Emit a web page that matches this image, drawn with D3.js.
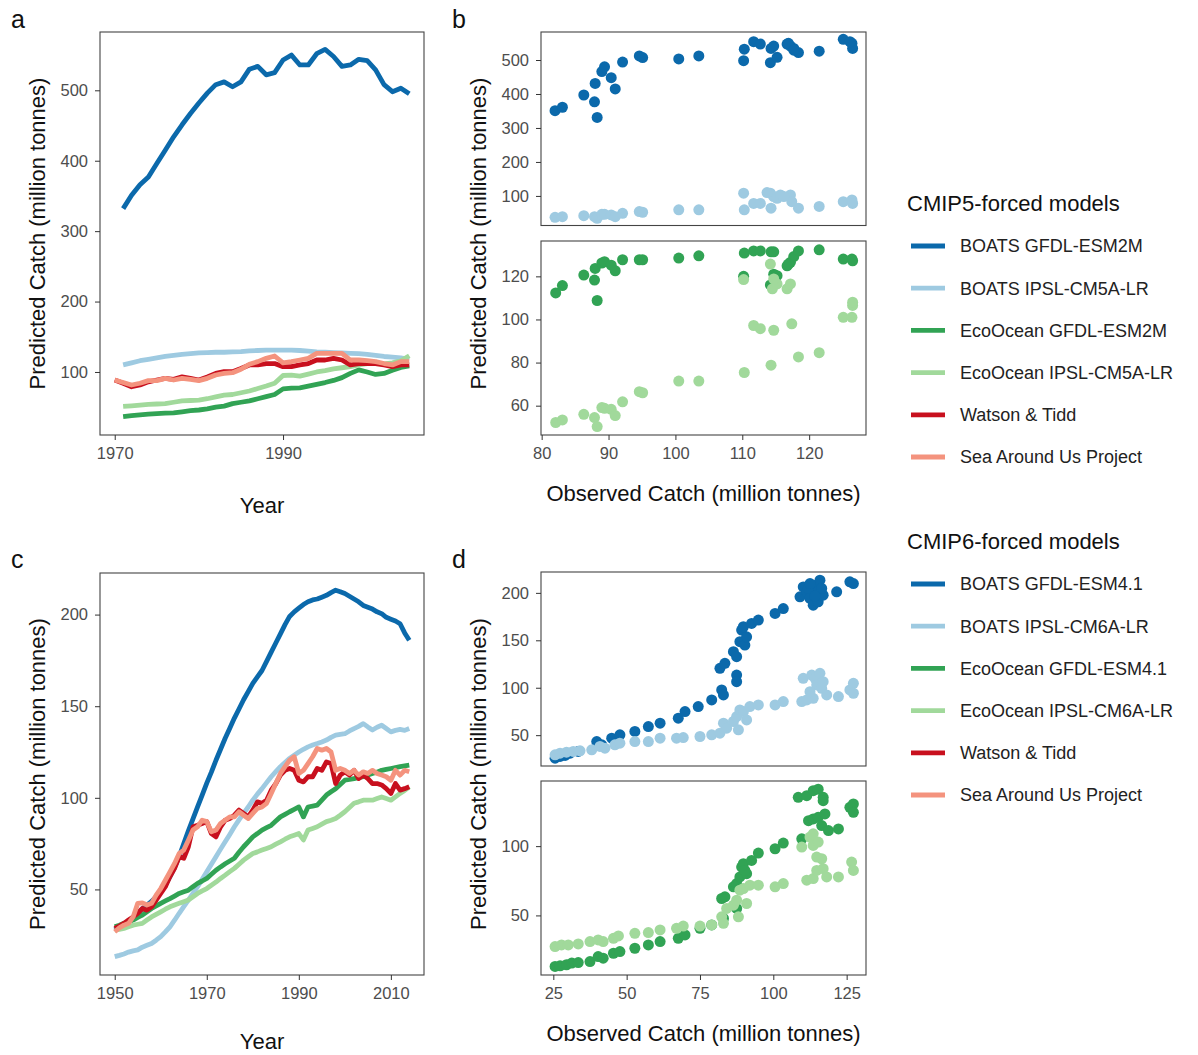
<!DOCTYPE html>
<html>
<head>
<meta charset="utf-8">
<script src="https://cdn.jsdelivr.net/npm/d3@7"></script>
<style>
    body { margin: 0; background: #fff; }
    svg { font-family: "Liberation Sans", Arial, Helvetica, sans-serif; }
    .tick text { fill: #4d4d4d; font-size: 16.5px; }
    .tick line { stroke: #333; }
</style>
</head>
<body>
<svg id="chart" width="1198" height="1055"></svg>
<script>
// ---- data ----
var seriesColors = ["#0b69ab", "#9ecae1", "#31a354", "#a1d99b", "#c8101e", "#f4937e"];
var legend5Labels = ["BOATS GFDL-ESM2M", "BOATS IPSL-CM5A-LR", "EcoOcean GFDL-ESM2M", "EcoOcean IPSL-CM5A-LR", "Watson & Tidd", "Sea Around Us Project"];
var legend6Labels = ["BOATS GFDL-ESM4.1", "BOATS IPSL-CM6A-LR", "EcoOcean GFDL-ESM4.1", "EcoOcean IPSL-CM6A-LR", "Watson & Tidd", "Sea Around Us Project"];

// panel a: CMIP5, observations 1970-2005, models 1971-2005
var yearsObs5 = d3.range(1970, 2006);
var yearsMod5 = d3.range(1971, 2006);
var boatsGfdl5 = [332, 351, 366, 377, 396, 415, 434, 451, 467, 482, 496, 508, 512, 505, 512, 530, 534, 522, 525, 543,
    550, 536, 536, 552, 558, 548, 534, 536, 544, 542, 529, 508, 498, 503, 495];
var boatsIpsl5 = [110, 113, 116, 118, 120, 122, 123.5, 125, 126, 127, 127.5, 128, 128, 128.5, 129, 130, 130.5, 131, 131, 131,
    131, 130.5, 129.5, 128.5, 128, 127.5, 127, 126.5, 126, 125, 123.5, 122, 121, 120, 118];
var ecoGfdl5 = [36.5, 38, 39, 40, 41, 41.5, 42, 43.5, 45, 46, 47.5, 50, 51.5, 55, 57, 59, 62, 65, 68, 76,
    77, 77.5, 80, 82.5, 85, 88, 92, 98, 103, 100, 96.5, 98, 102.5, 106.5, 108.5];
var ecoIpsl5 = [51, 52, 53, 54, 54.5, 55, 57, 59, 59.5, 60, 62, 64.5, 67, 68, 70.5, 73, 76.5, 80, 84, 95,
    95.5, 94, 97, 100, 102, 104.5, 106, 107.5, 110, 112, 112, 111.5, 113, 116, 123];
var watson5 = [88.6, 84, 79, 81.5, 86, 88.6, 91, 89.6, 93, 91, 88.6, 93, 98, 100.5, 100.5, 105, 110, 110, 112, 112,
    107.6, 107.6, 110, 112, 117, 117, 119.4, 117, 110, 112, 112, 112, 110, 107.6, 110, 110];
var sau5 = [88.6, 85, 81.5, 84, 87.7, 87.7, 91, 88.6, 91, 89.6, 87.7, 91, 95.7, 98, 99, 103.8, 111, 114.7, 119.4, 122.7,
    113, 114.7, 117, 119.4, 126.5, 126.5, 126.5, 126.5, 117, 117, 116, 114.7, 112, 110, 114.7, 114.7];

// panel b: [observed, predicted]
var obsPredBoatsGfdl5 = [[82.0, 351], [83.1, 361], [86.3, 397], [87.9, 377], [88.0, 431], [88.3, 331], [89.0, 466], [89.4, 480],
    [90.4, 448], [91.0, 415], [92.1, 494], [94.6, 512], [95.1, 507], [100.5, 503], [103.5, 512], [110.3, 532], [110.2, 498],
    [111.7, 554], [112.7, 547], [114.3, 534], [114.7, 541], [114.2, 492], [115.2, 508], [116.7, 547], [117.2, 541],
    [117.7, 534], [118.4, 522], [121.5, 526], [125.1, 561], [126.4, 549], [126.5, 534], [126.1, 554], [116.9, 549], [117.7, 529]];
var obsPredBoatsIpsl5 = [[82.0, 37], [83.1, 39], [86.3, 42], [87.9, 39], [88.3, 34], [89.0, 46], [89.4, 46], [90.4, 44],
    [91.0, 39], [92.1, 49], [94.6, 54], [95.1, 52], [100.5, 59], [103.5, 59], [110.2, 108], [110.3, 59], [111.7, 78],
    [112.7, 78], [114.2, 108], [114.3, 64], [114.7, 98], [115.2, 93], [115.7, 103], [117.2, 103], [117.4, 83], [118.4, 64],
    [121.5, 69], [125.1, 83], [126.4, 88], [126.5, 78], [113.7, 110], [116.2, 98]];
var obsPredEcoGfdl5 = [[82.1, 112.3], [83.1, 115.7], [86.3, 120.6], [87.9, 118.3], [88.3, 108.8], [88.0, 123.7], [89.0, 126.2],
    [89.4, 126.8], [90.4, 125.2], [91.0, 122.6], [92.1, 127.7], [94.6, 127.7], [95.1, 127.7], [100.5, 128.5], [103.5, 129.5],
    [110.3, 130.8], [110.2, 120], [111.7, 131.8], [112.7, 131.8], [114.3, 131.4], [114.7, 131.4], [114.2, 116], [114.7, 121],
    [115.2, 120.3], [116.7, 124.9], [117.2, 126.5], [117.7, 129.2], [118.4, 131.8], [121.5, 132.3], [125.1, 128], [126.4, 128],
    [126.5, 127.2], [116.9, 125.7]];
var obsPredEcoIpsl5 = [[82.1, 52.2], [83.1, 53.4], [86.3, 56], [87.9, 54.5], [88.3, 50.3], [89.0, 59.1], [89.4, 58.8], [90.4, 58.3],
    [91.0, 55.4], [92.1, 61.8], [94.6, 66.5], [95.1, 66], [100.5, 71.4], [103.5, 71.4], [110.3, 75.4], [110.2, 118.5],
    [111.7, 97.2], [112.7, 95.7], [114.3, 78.8], [114.7, 95], [114.2, 125.7], [114.5, 114.2], [115.2, 116.5], [116.7, 114.2],
    [117.2, 116.5], [117.4, 98], [118.4, 82.6], [121.5, 84.6], [125.1, 101], [126.4, 101], [126.5, 106.5], [126.5, 108], [114.7, 118.8]];

// panel c: CMIP6, 1950-2014
var years6 = d3.range(1950, 2015);
var boatsGfdl6 = [28, 29.5, 31, 32.5, 34.5, 37, 39.5, 41.5, 43.5, 46, 49, 52.5, 57, 62, 68, 75, 82, 88.5, 95, 101.5,
    108, 114, 120.5, 126.5, 132.5, 138, 143.5, 148.5, 153.5, 158, 162.5, 166, 169.5, 174.5, 179.5, 184.5, 189.5, 194.5, 199, 201.5,
    203.5, 205.5, 207, 208, 208.5, 209.5, 210.5, 212, 213.3, 212.5, 211.5, 210, 208.5, 207, 205, 204, 203, 201.5, 200.5, 198.5,
    197.5, 196.5, 195, 190, 186];
var boatsIpsl6 = [13.3, 14, 14.8, 15.8, 16.5, 17, 18.5, 19.5, 20.5, 22.3, 24.2, 26.8, 29.6, 33.2, 37, 40.6, 44.2, 47.8, 51.5, 55.5,
    59.6, 63.7, 67.8, 72, 76, 80, 84.2, 88, 91.5, 95, 98.7, 102, 105, 108.3, 111.5, 114.3, 117, 119.3, 121.5, 123.3,
    125, 126.5, 127.8, 128.8, 129.6, 130.5, 131.5, 133, 134.2, 134.6, 135, 136.5, 137.8, 139, 140.5, 138.7, 137, 138.5, 139.6, 137.8,
    136, 136.8, 137.3, 136.8, 137.8];
var ecoGfdl6 = [29.6, 30.5, 31.5, 32.4, 33.3, 34.7, 36, 37.8, 39.6, 41, 42.4, 43.7, 45, 46.4, 47.8, 48.7, 49.6, 51.5, 53.3, 54.6,
    56, 58.3, 60.5, 62.3, 64, 65.5, 67, 70.3, 73.3, 76, 78.7, 80.5, 82.4, 83.7, 85, 87.3, 89.6, 91, 92.4, 93.7,
    95, 89.6, 95, 95.5, 96, 98.7, 101.5, 103.3, 105, 107.3, 109.6, 110, 110.5, 111, 111.5, 112.4, 113.3, 114, 115, 115.5,
    116, 116.5, 117, 117.4, 117.8];
var ecoIpsl6 = [27.8, 28.2, 28.7, 29.6, 30.5, 31, 31.5, 33.3, 35, 36.4, 37.8, 39.2, 40.5, 41.5, 42.4, 43.3, 44.2, 46, 47.8, 49.2,
    50.5, 52.3, 54, 56, 57.8, 59.7, 61.5, 63.8, 66, 67.8, 69.6, 70.5, 71.5, 72.4, 73.3, 74.7, 76, 77.4, 78.7, 79.6,
    80.5, 77, 82.4, 83.3, 84.2, 85.6, 87, 87.8, 88.7, 90.5, 92.4, 94.7, 97, 97.8, 98.7, 98.7, 98.7, 99.6, 100.5, 99.6,
    98.7, 100.5, 102.4, 104, 106];
var watson6 = [28.7, 30, 31.5, 33.3, 35, 37, 39.6, 38.7, 40.5, 44.2, 47.8, 51.5, 57, 61.5, 67.8, 67, 73.3, 84.2, 85, 86,
    87, 80.5, 78.7, 84.2, 87.8, 88.7, 90.5, 93.3, 91.5, 89.6, 93.3, 97.8, 97, 98.7, 104.2, 107.8, 112.4, 115, 116, 115,
    109.6, 108.7, 111.5, 111.5, 116, 115, 119.6, 118.7, 107.8, 112.4, 114.2, 112.4, 115, 110.5, 112.4, 110.5, 107.8, 107.8, 107, 105,
    102.4, 107.8, 104.2, 105, 106];
var sau6 = [26.9, 29, 30.5, 31.5, 35, 42.4, 42.7, 41.5, 42.4, 46.9, 50.5, 55, 59.6, 64.2, 69.6, 71.5, 76.9, 82.4, 84.2, 87.8,
    87, 81.5, 82.4, 86, 87.8, 89.6, 89.6, 92.4, 90.5, 88.7, 91.5, 94.2, 95, 97, 102.4, 107.8, 113.3, 117, 120.5, 122.4,
    113.3, 115, 118.7, 122.4, 126.9, 126, 126.9, 125, 115, 116, 115, 113.3, 115, 112.4, 114.2, 113.3, 115, 113.3, 112.4, 111.5,
    109.6, 115, 112.4, 115, 114.2];

// panel d: [observed, predicted]
var obsPredBoatsGfdl6 = [[25.6, 25.8], [27.3, 27.6], [29, 28.6], [30.7, 31], [33.5, 32.8], [39.8, 43.3], [41.5, 39.8], [44.9, 46.8],
    [47.7, 50.4], [52.8, 53.9], [57.4, 59.1], [61.4, 62.6], [67.6, 67.9], [69.9, 74.9], [74.4, 80.1], [79, 87.2], [82.4, 97.7],
    [83, 92.4], [81.8, 120.5], [83.5, 125.7], [86.4, 138], [87.5, 132.7], [87.5, 113.4], [87.5, 106.4], [88.6, 148.5],
    [89.2, 160.8], [90.3, 145], [90.9, 153.7], [89.8, 164.3], [92.6, 167.8], [94.9, 171.3], [100.6, 178.3], [103.4, 183.5],
    [109.1, 195.8], [110.2, 206.3], [111.4, 201.1], [112.5, 194.1], [113.6, 208], [114.8, 201.1], [115.9, 213.3], [113.6, 187],
    [115.3, 190.6], [117, 197.6], [121.6, 201.1], [126.1, 211.6], [127.3, 209.8], [111.9, 204.6], [116.5, 204.6], [112.5, 209.8],
    [114.2, 196.8]];
var obsPredBoatsIpsl6 = [[25.6, 29.3], [27.3, 31], [29.5, 32.1], [31.8, 32.8], [34.1, 33.5], [38.1, 34.6], [40.9, 38.1], [42.6, 36.3],
    [46, 39.8], [47.7, 41.6], [52.8, 43.3], [57.4, 43.3], [61.4, 46.8], [67, 46.8], [69.3, 47.5], [75, 48.6], [79, 50.4],
    [81.8, 52.1], [83, 62.6], [84.1, 57.4], [86.4, 64.4], [87.5, 69.6], [88.1, 55.6], [88.6, 76.6], [89.8, 74.9], [90.9, 66.1],
    [92, 80.1], [94.9, 81.9], [100.6, 81.9], [103.4, 85.4], [109.7, 85.4], [111.4, 87.2], [113.6, 88.9], [110.2, 109.9],
    [113.1, 113.4], [114.2, 109.9], [115.9, 115.2], [114.8, 102.9], [116.5, 99.4], [117, 106.4], [118.2, 92.4], [122.2, 90.7],
    [126.1, 97.7], [127.3, 104.7], [127.3, 94.2], [112.5, 95.9]];
var obsPredEcoGfdl6 = [[25.6, 13.2], [27.3, 13.6], [29.5, 14.4], [31.3, 15.6], [33.5, 16], [37.5, 16.7], [40.3, 20.3], [42, 19.1],
    [45.5, 22.7], [47.7, 23.9], [52.8, 26.3], [57.4, 28.7], [61.4, 31.1], [67.6, 33.5], [69.9, 35.9], [75, 40.7], [79, 43.1],
    [82.4, 62.2], [83.5, 63.4], [83, 47.8], [86.4, 70.6], [87.5, 73], [87.5, 55], [88.6, 77.8], [89.2, 84.9], [89.8, 87.3],
    [90.9, 80.1], [90.3, 82.5], [92.6, 89.7], [94.9, 95], [100.6, 98.1], [103.4, 102.2], [109.7, 105.3], [108.5, 135.2],
    [111.4, 136.4], [113.6, 140], [115.3, 141.1], [117, 135.2], [112, 118.4], [113.6, 119.6], [115.3, 120.8], [117.6, 123.2],
    [116.5, 114.8], [118.8, 111.2], [122.2, 112.4], [126.1, 128], [127.3, 130.4], [127.3, 124.4], [117, 132.8]];
var obsPredEcoIpsl6 = [[25.6, 27.5], [27.8, 28.7], [30.1, 28.7], [33.5, 29.4], [37.5, 31.1], [40.3, 32.3], [42, 31.1], [45.5, 33.5],
    [47.2, 35.2], [52.8, 37.1], [57.4, 37.6], [61.4, 39.5], [67, 40.7], [69.3, 42.3], [75, 42.3], [79, 43.1], [82.4, 49],
    [83, 44.3], [84.1, 55], [86.4, 57.4], [87.5, 61], [88.1, 49], [88.6, 68.2], [89.8, 69.4], [90.9, 58.6], [92, 71.8],
    [94.9, 71.8], [100.6, 70.6], [103.4, 73], [109.7, 99.3], [111.4, 75.4], [113.6, 76.6], [112.5, 106.5], [113.6, 100.5],
    [115.3, 102.9], [114.8, 92.1], [116.5, 90.9], [114.8, 82.5], [117, 83.7], [118.2, 77.8], [122.2, 77.8], [126.7, 88.5],
    [127.3, 82.5], [113.6, 108.9]];

// ---- drawing ----
var svg = d3.select("#chart");

function drawBox(box) {
    svg.append("rect")
        .attr("x", box.x0)
        .attr("y", box.y0)
        .attr("width", box.x1 - box.x0)
        .attr("height", box.y1 - box.y0)
        .attr("fill", "none")
        .attr("stroke", "#444")
        .attr("stroke-width", 1.1);
}

function yAxis(box, y, ticks) {
    var g = svg.append("g")
        .attr("transform", "translate(" + box.x0 + ",0)")
        .call(d3.axisLeft(y).tickValues(ticks).tickSize(5).tickPadding(7).tickSizeOuter(0));
    g.select(".domain").remove();
}

function xAxis(box, x, ticks) {
    var g = svg.append("g")
        .attr("transform", "translate(0," + box.y1 + ")")
        .call(d3.axisBottom(x).tickValues(ticks).tickSize(5).tickPadding(7).tickSizeOuter(0).tickFormat(d3.format("d")));
    g.select(".domain").remove();
}

function linePanel(box, xDomain, yDomain, xTicks, yTicks, series) {
    var x = d3.scaleLinear().domain(xDomain).range([box.x0, box.x1]);
    var y = d3.scaleLinear().domain(yDomain).range([box.y1, box.y0]);
    var line = d3.line()
        .x((d) => x(d[0]))
        .y((d) => y(d[1]));
    series.forEach(function (s) {
        svg.append("path")
            .datum(d3.zip(s.years, s.values))
            .attr("d", line)
            .attr("fill", "none")
            .attr("stroke", s.color)
            .attr("stroke-width", 4.8)
            .attr("stroke-linejoin", "round");
    });
    drawBox(box);
    yAxis(box, y, yTicks);
    xAxis(box, x, xTicks);
}

function scatterPanel(box, xDomain, yDomain, xTicks, yTicks, series) {
    var x = d3.scaleLinear().domain(xDomain).range([box.x0, box.x1]);
    var y = d3.scaleLinear().domain(yDomain).range([box.y1, box.y0]);
    series.forEach(function (s) {
        svg.append("g")
            .selectAll("circle")
            .data(s.points)
            .enter()
            .append("circle")
            .attr("cx", (d) => x(d[0]))
            .attr("cy", (d) => y(d[1]))
            .attr("r", 5.5)
            .attr("fill", s.color);
    });
    drawBox(box);
    yAxis(box, y, yTicks);
    if (xTicks) xAxis(box, x, xTicks);
}

function title(txt, x, y, rotate) {
    svg.append("text")
        .text(txt)
        .attr("transform", "translate(" + x + "," + y + ")" + (rotate ? " rotate(-90)" : ""))
        .attr("text-anchor", "middle")
        .attr("dy", "0.35em")
        .attr("font-size", 22)
        .attr("fill", "#111");
}

function legend(heading, labels, top) {
    svg.append("text")
        .text(heading)
        .attr("x", 907)
        .attr("y", top)
        .attr("dy", "0.35em")
        .attr("font-size", 22)
        .attr("fill", "#111");
    var item = svg.append("g")
        .selectAll("g")
        .data(labels)
        .enter()
        .append("g")
        .attr("transform", (d, i) => "translate(0," + (top + 43 + i * 42.2) + ")");
    item.append("line")
        .attr("x1", 911)
        .attr("x2", 945)
        .attr("stroke", (d, i) => seriesColors[i])
        .attr("stroke-width", 4.8);
    item.append("text")
        .text((d) => d)
        .attr("x", 960)
        .attr("dy", "0.35em")
        .attr("font-size", 18)
        .attr("fill", "#222");
}

// panel a
linePanel({x0: 100, x1: 424, y0: 32, y1: 435}, [1968.25, 2006.75], [10.5, 582.8], [1970, 1990], [100, 200, 300, 400, 500], [
    {years: yearsMod5, values: boatsGfdl5, color: seriesColors[0]},
    {years: yearsMod5, values: boatsIpsl5, color: seriesColors[1]},
    {years: yearsMod5, values: ecoGfdl5, color: seriesColors[2]},
    {years: yearsMod5, values: ecoIpsl5, color: seriesColors[3]},
    {years: yearsObs5, values: watson5, color: seriesColors[4]},
    {years: yearsObs5, values: sau5, color: seriesColors[5]}
]);

// panel b
scatterPanel({x0: 541, x1: 866, y0: 32, y1: 225.5}, [79.9, 128.5], [13, 582.4], null, [100, 200, 300, 400, 500], [
    {points: obsPredBoatsGfdl5, color: seriesColors[0]},
    {points: obsPredBoatsIpsl5, color: seriesColors[1]}
]);
scatterPanel({x0: 541, x1: 866, y0: 241, y1: 435}, [79.9, 128.5], [46.4, 136.4], [80, 90, 100, 110, 120], [60, 80, 100, 120], [
    {points: obsPredEcoGfdl5, color: seriesColors[2]},
    {points: obsPredEcoIpsl5, color: seriesColors[3]}
]);

// panel c
linePanel({x0: 100, x1: 424, y0: 573, y1: 975}, [1946.8, 2017.2], [3.3, 222.7], [1950, 1970, 1990, 2010], [50, 100, 150, 200], [
    {years: years6, values: boatsGfdl6, color: seriesColors[0]},
    {years: years6, values: boatsIpsl6, color: seriesColors[1]},
    {years: years6, values: ecoGfdl6, color: seriesColors[2]},
    {years: years6, values: ecoIpsl6, color: seriesColors[3]},
    {years: years6, values: watson6, color: seriesColors[4]},
    {years: years6, values: sau6, color: seriesColors[5]}
]);

// panel d
scatterPanel({x0: 541, x1: 866, y0: 572, y1: 766}, [20.8, 131.6], [17.5, 222], null, [50, 100, 150, 200], [
    {points: obsPredBoatsGfdl6, color: seriesColors[0]},
    {points: obsPredBoatsIpsl6, color: seriesColors[1]}
]);
scatterPanel({x0: 541, x1: 866, y0: 781, y1: 975}, [20.8, 131.6], [7, 147], [25, 50, 75, 100, 125], [50, 100], [
    {points: obsPredEcoGfdl6, color: seriesColors[2]},
    {points: obsPredEcoIpsl6, color: seriesColors[3]}
]);

// axis titles
title("Predicted Catch (million tonnes)", 37, 233.5, true);
title("Predicted Catch (million tonnes)", 478, 233.5, true);
title("Predicted Catch (million tonnes)", 37, 774, true);
title("Predicted Catch (million tonnes)", 478, 774, true);
title("Year", 262, 505);
title("Observed Catch (million tonnes)", 703.5, 493);
title("Year", 262, 1041);
title("Observed Catch (million tonnes)", 703.5, 1033);

// panel letters
[["a", 11, 28], ["b", 452, 28], ["c", 11, 568], ["d", 452, 568]].forEach(function (p) {
    svg.append("text")
        .text(p[0])
        .attr("x", p[1])
        .attr("y", p[2])
        .attr("font-size", 25)
        .attr("fill", "#111");
});

legend("CMIP5-forced models", legend5Labels, 203);
legend("CMIP6-forced models", legend6Labels, 541);
</script>
</body>
</html>
